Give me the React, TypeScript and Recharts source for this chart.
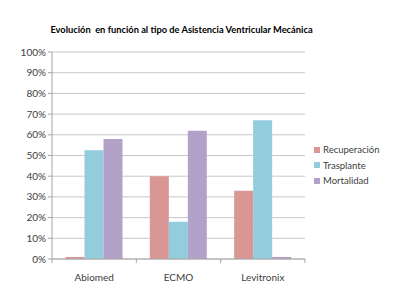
import { Bar, BarChart, CartesianGrid, XAxis, YAxis } from "recharts";

const categories = ["Abiomed", "ECMO", "Levitronix"];
const recuperacion = [1, 40, 33];
const trasplante = [52.5, 18, 67];
const mortalidad = [58, 62, 1];
const yTicks = [0, 10, 20, 30, 40, 50, 60, 70, 80, 90, 100];

const SERIES = [
  { key: "recuperacion", name: "Recuperación", color: "#D99694" },
  { key: "trasplante", name: "Trasplante", color: "#93CDDD" },
  { key: "mortalidad", name: "Mortalidad", color: "#B3A2C7" },
];

const rows = categories.map((cat, i) => ({
  cat,
  recuperacion: recuperacion[i],
  trasplante: trasplante[i],
  mortalidad: mortalidad[i],
}));

const FONT = "Lato, 'Open Sans', sans-serif";

// Excel puts the category tick marks between groups, not under the label.
function CategoryTick(props: any) {
  const { x, y, payload, width, visibleTicksCount } = props;
  const band = width / (visibleTicksCount || 3);
  const last = payload.index === (visibleTicksCount || 3) - 1;
  return (
    <g>
      <line x1={x - band / 2} x2={x - band / 2} y1={y - 8} y2={y - 4} stroke="#A6A6A6" />
      {last && <line x1={x + band / 2} x2={x + band / 2} y1={y - 8} y2={y - 4} stroke="#A6A6A6" />}
      <text x={x} y={y + 14} textAnchor="middle" fontSize={10} fill="#404040" fontFamily={FONT}>
        {payload.value}
      </text>
    </g>
  );
}

export default function App() {
  return (
    <div style={{ position: "absolute", left: 0, top: 0, width: 405, height: 304, background: "#fff" }}>
      <div
        style={{
          position: "absolute",
          left: 0,
          width: 363,
          top: 24,
          textAlign: "center",
          fontFamily: FONT,
          fontWeight: 700,
          fontSize: 9.3,
          color: "#000",
        }}
      >
        Evolución&nbsp; en función al tipo de Asistencia Ventricular Mecánica
      </div>
      <BarChart
        width={405}
        height={304}
        data={rows}
        margin={{ top: 52, right: 100, bottom: 15, left: 0 }}
        barCategoryGap="16%"
        barGap={0}
      >
        <CartesianGrid vertical={false} stroke="#C8C8C8" />
        <XAxis
          dataKey="cat"
          stroke="#A6A6A6"
          tickLine={false}
          tick={<CategoryTick />}
          interval={0}
        />
        <YAxis
          width={52}
          domain={[0, 100]}
          ticks={yTicks}
          interval={0}
          stroke="#A6A6A6"
          tickSize={4}
          tickFormatter={(v: number) => `${v}%`}
          tick={{ fontSize: 10, fill: "#404040", fontFamily: FONT }}
        />
        {SERIES.map((s) => (
          <Bar key={s.key} dataKey={s.key} name={s.name} fill={s.color} isAnimationActive={false} />
        ))}
      </BarChart>
      <div style={{ position: "absolute", left: 314, top: 142, fontFamily: FONT, fontSize: 9.5, color: "#404040" }}>
        {SERIES.map((s) => (
          <div key={s.key} style={{ display: "flex", alignItems: "center", height: 15.5 }}>
            <span style={{ width: 6, height: 6, background: s.color, marginRight: 3, display: "inline-block" }} />
            {s.name}
          </div>
        ))}
      </div>
    </div>
  );
}
